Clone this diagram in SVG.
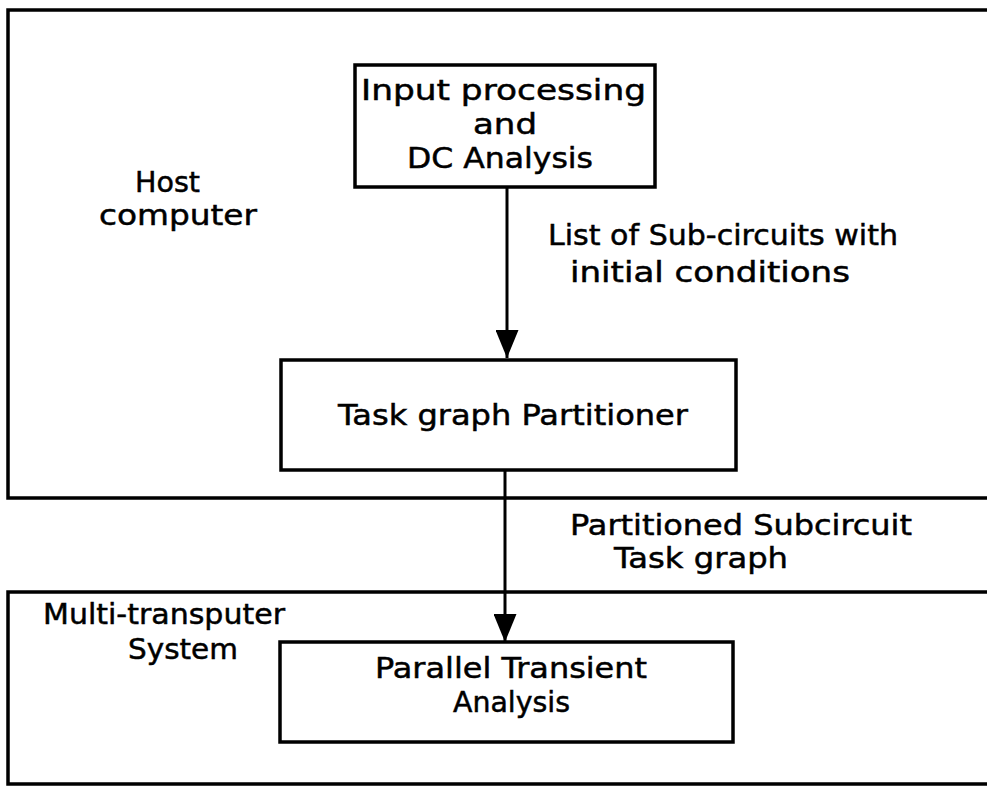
<svg xmlns="http://www.w3.org/2000/svg" width="987" height="787" viewBox="0 0 987 787">
  <style>
    .frame { fill: none; stroke: #000; stroke-width: 3.5; }
    .box { fill: #fff; stroke: #000; stroke-width: 3.5; }
    .link { stroke: #000; stroke-width: 3; fill: none; }
    text { font-family: "DejaVu Sans", "Liberation Sans", sans-serif; font-size: 29px; fill: #000; stroke: #000; stroke-width: 0.5; }
  </style>
  <defs>
    <marker id="arrow" markerUnits="userSpaceOnUse" markerWidth="28" markerHeight="23" refX="28" refY="11.5" orient="auto" viewBox="0 0 28 23">
      <path d="M0,0 L28,11.5 L0,23 Z" fill="#000"/>
    </marker>
  </defs>

  <!-- host computer region (open on the right) -->
  <g id="host-region">
    <path class="frame" d="M987,10 L8,10 L8,498 L987,498"/>
    <text x="135" y="192" textLength="65" lengthAdjust="spacingAndGlyphs">Host</text>
    <text x="99" y="225" textLength="158" lengthAdjust="spacingAndGlyphs">computer</text>
  </g>

  <!-- multi-transputer region (open on the right) -->
  <g id="transputer-region">
    <path class="frame" d="M987,592 L8,592 L8,784 L987,784"/>
    <text x="43" y="624" textLength="242" lengthAdjust="spacingAndGlyphs">Multi-transputer</text>
    <text x="128" y="659" textLength="110" lengthAdjust="spacingAndGlyphs">System</text>
  </g>

  <g id="connectors">
    <line class="link" x1="507" y1="187" x2="507" y2="358" marker-end="url(#arrow)"/>
    <line class="link" x1="505" y1="470" x2="505" y2="642" marker-end="url(#arrow)"/>
    <text x="548" y="245" textLength="350" lengthAdjust="spacingAndGlyphs">List of Sub-circuits with</text>
    <text x="570" y="282" textLength="280" lengthAdjust="spacingAndGlyphs">initial conditions</text>
    <text x="570" y="535" textLength="342" lengthAdjust="spacingAndGlyphs">Partitioned Subcircuit</text>
    <text x="614" y="568" textLength="174" lengthAdjust="spacingAndGlyphs">Task graph</text>
  </g>

  <g id="input-processing">
    <rect class="box" x="355" y="65" width="300" height="122"/>
    <text x="361" y="100" textLength="285" lengthAdjust="spacingAndGlyphs">Input  processing</text>
    <text x="473" y="134" textLength="64" lengthAdjust="spacingAndGlyphs">and</text>
    <text x="407" y="168" textLength="186" lengthAdjust="spacingAndGlyphs">DC Analysis</text>
  </g>

  <g id="partitioner">
    <rect class="box" x="281" y="360" width="455" height="110"/>
    <text x="338" y="425" textLength="350" lengthAdjust="spacingAndGlyphs">Task graph Partitioner</text>
  </g>

  <g id="transient-analysis">
    <rect class="box" x="280" y="642" width="453" height="100"/>
    <text x="375" y="678" textLength="272" lengthAdjust="spacingAndGlyphs">Parallel Transient</text>
    <text x="453" y="712" textLength="117" lengthAdjust="spacingAndGlyphs">Analysis</text>
  </g>
</svg>
